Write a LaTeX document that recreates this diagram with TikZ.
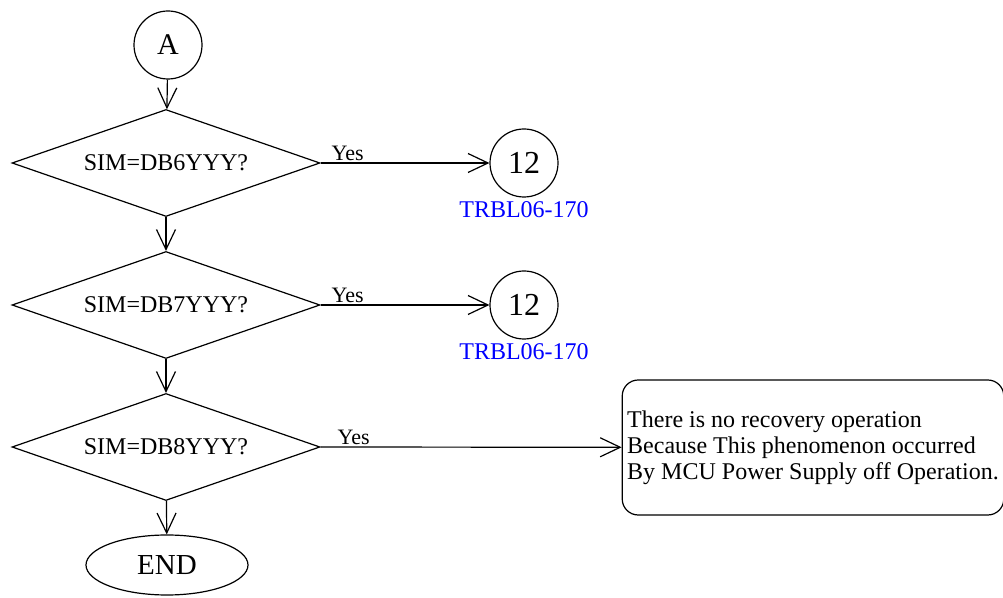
\documentclass[tikz,border=0pt]{standalone}
\usepackage{fontspec}
\setmainfont{Liberation Serif}
\usetikzlibrary{positioning,arrows.meta,shapes.geometric}

\begin{document}
\begin{tikzpicture}[x=0.5pt, y=-0.5pt, line width=0.6pt]
\tikzset{
  decision/.style={diamond, draw, aspect=2.9, inner sep=0pt,
    minimum width=154pt, minimum height=53.5pt, font=\fontsize{12}{14}\selectfont},
  conn/.style={circle, draw, inner sep=0pt, minimum size=34pt},
  term/.style={ellipse, draw, inner sep=0pt, minimum width=81pt,
    minimum height=30pt, font=\fontsize{14.5}{16}\selectfont},
  note/.style={draw, rounded corners=8pt, align=left, inner sep=2.5pt,
    minimum width=188pt, minimum height=67.5pt, font=\fontsize{12}{13}\selectfont},
  reflabel/.style={text=blue, font=\fontsize{12}{14}\selectfont},
  yes/.style={font=\fontsize{11}{13}\selectfont, anchor=south, inner sep=1pt},
  arr/.style={-{Straight Barb[length=10pt, width=9.5pt]}},
}
\useasboundingbox (0,0) rectangle (1003,598);

% ---- main column ----
\node[conn, font=\fontsize{15}{17}\selectfont] (start) at (168,45) {A};
\node[decision] (db6) at (166,163) {SIM=DB6YYY?};
\node[decision] (db7) at (166,305) {SIM=DB7YYY?};
\node[decision] (db8) at (166,447) {SIM=DB8YYY?};
\node[term] (stop) at (167,565) {END};

% ---- branches ----
\node[conn, font=\fontsize{16}{18}\selectfont] (go6) at (524,163) {12};
\node[reflabel] (ref6) at (524,210) {TRBL06-170};
\node[conn, font=\fontsize{16}{18}\selectfont] (go7) at (524,305) {12};
\node[reflabel] (ref7) at (524,352) {TRBL06-170};
\node[note] (msg) at (813,447.5)
  {There is no recovery operation\\
   Because This phenomenon occurred\\
   By MCU Power Supply off Operation.};

% ---- connectors ----
\draw[arr] (start) -- (db6);
\draw[arr] (db6) -- (db7);
\draw[arr] (db7) -- (db8);
\draw[arr] (db8) -- (stop);
\draw[arr] (db6.east) -- node[yes, pos=0.16] {Yes} (go6);
\draw[arr] (db7.east) -- node[yes, pos=0.16] {Yes} (go7);
\draw[arr] (db8.east) -- node[yes, pos=0.11] {Yes} (msg);

\end{tikzpicture}
\end{document}
